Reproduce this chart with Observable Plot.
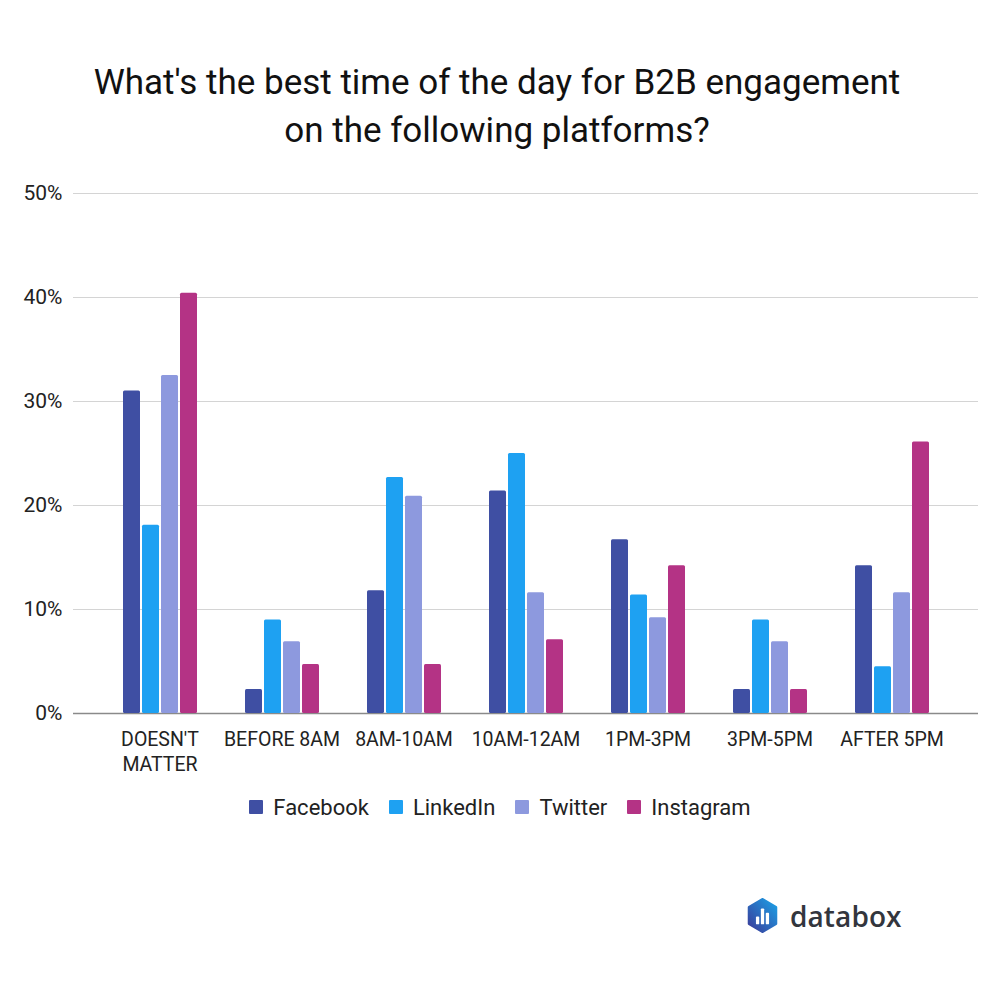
<!DOCTYPE html>
<html>
<head>
<meta charset="utf-8">
<script src="https://cdn.jsdelivr.net/npm/d3@7"></script>
<script src="https://cdn.jsdelivr.net/npm/@observablehq/plot@0.6"></script>
<style>
  html, body { margin: 0; padding: 0; background: #fff; }
  #page { position: relative; width: 1000px; height: 1000px; background: #fff; font-family: Roboto, "Noto Sans", sans-serif; overflow: hidden; }
  #title { position: absolute; left: 0; top: 59px; width: 994px; text-align: center; font-size: 35px; line-height: 48px; color: #111; font-weight: 400; }
  .layer { position: absolute; left: 0; top: 170px; }
  #legend { position: absolute; left: 0; top: 794px; width: 1000px; height: 26px; display: flex; justify-content: center; align-items: center; font-size: 22px; color: #222; }
  #legend .item { display: flex; align-items: center; margin: 0 10px; }
  #legend .sw { width: 14px; height: 14px; margin-right: 10px; border-radius: 1px; }
  #logo { position: absolute; left: 747px; top: 898px; display: flex; align-items: center; }
  #logo .word { font-family: "Open Sans", sans-serif; font-weight: 600; font-size: 28px; line-height: 28px; color: #33363d; margin-left: 12px; letter-spacing: 0.1px; }
</style>
</head>
<body>
<div id="page">
  <div id="title">What's the best time of the day for B2B engagement<br>on the following platforms?</div>
  <div id="bg" class="layer"></div>
  <div id="fg" class="layer"></div>
  <div id="legend"></div>
  <div id="logo">
    <svg width="31" height="35" viewBox="0 0 28 32">
      <defs>
        <linearGradient id="hexg" x1="0" y1="1" x2="1" y2="0">
          <stop offset="0" stop-color="#3b3c9a"/>
          <stop offset="1" stop-color="#1ba0e6"/>
        </linearGradient>
      </defs>
      <path d="M14 1.5 L26 8.5 L26 23.5 L14 30.5 L2 23.5 L2 8.5 Z" fill="url(#hexg)" stroke="url(#hexg)" stroke-width="3" stroke-linejoin="round"/>
      <rect x="8" y="17" width="3" height="7" rx="0.8" fill="#fff"/>
      <rect x="12.5" y="9.5" width="3" height="14.5" rx="0.8" fill="#fff"/>
      <rect x="17" y="13.5" width="3" height="10.5" rx="0.8" fill="#fff"/>
    </svg>
    <span class="word">databox</span>
  </div>
</div>
<script>
const categories = ["DOESN'T MATTER", "BEFORE 8AM", "8AM-10AM", "10AM-12AM", "1PM-3PM", "3PM-5PM", "AFTER 5PM"];
const categoryLabels = ["DOESN'T\nMATTER", "BEFORE 8AM", "8AM-10AM", "10AM-12AM", "1PM-3PM", "3PM-5PM", "AFTER 5PM"];
const platforms = ["Facebook", "LinkedIn", "Twitter", "Instagram"];
const facebook  = [31.0, 2.3, 11.8, 21.4, 16.7, 2.3, 14.2];
const linkedin  = [18.1, 9.0, 22.7, 25.0, 11.4, 9.0, 4.5];
const twitter   = [32.5, 6.9, 20.9, 11.6, 9.2, 6.9, 11.6];
const instagram = [40.4, 4.7, 4.7, 7.1, 14.2, 2.3, 26.1];
const platformColors = ["#3f4fa3", "#1ea1f2", "#8d99de", "#b43385"];
const yTicks = [0, 10, 20, 30, 40, 50];

const series = [facebook, linkedin, twitter, instagram];
const rows = [];
categories.forEach((c, i) => {
  platforms.forEach((p, j) => rows.push({category: c, platform: p, value: series[j][i]}));
});

const W = 1000, H = 603;
const M = {top: 23, right: 22, bottom: 60, left: 73};
const bandOpts = {paddingInner: 0.382, paddingOuter: 0.37};
const font = {fontFamily: "Roboto, sans-serif", background: "transparent", overflow: "visible"};

// Background: grid, y axis, baseline, category labels
const bg = Plot.plot({
  width: W, height: H,
  marginTop: M.top, marginRight: M.right, marginBottom: M.bottom, marginLeft: M.left,
  style: {...font, fontSize: "21px", color: "#222"},
  x: {type: "band", domain: categories, ...bandOpts, axis: null},
  y: {domain: [0, 50], ticks: yTicks, tickFormat: d => d + "%", tickSize: 0, tickPadding: 11, label: null},
  marks: [
    Plot.ruleY(yTicks.filter(d => d > 0), {stroke: "#d4d4d4", strokeWidth: 1.2}),
    Plot.ruleY([0], {stroke: "#8a8a8a", strokeWidth: 1.6}),
    Plot.text(categories, {
      x: d => d,
      text: (d, i) => categoryLabels[i],
      frameAnchor: "bottom",
      lineAnchor: "top",
      dy: 15,
      lineHeight: 1.27,
      fontSize: 19.5,
      fill: "#222"
    })
  ]
});
document.getElementById("bg").appendChild(bg);

// Foreground: grouped bars through facets
const fg = Plot.plot({
  width: W, height: H,
  marginTop: M.top, marginRight: M.right, marginBottom: M.bottom, marginLeft: M.left,
  style: {...font},
  facet: {data: rows, x: "category"},
  fx: {domain: categories, ...bandOpts, axis: null, label: null},
  x: {domain: platforms, paddingInner: 0.13, paddingOuter: 0, axis: null},
  y: {domain: [0, 50], axis: null},
  color: {domain: platforms, range: platformColors},
  marks: [
    Plot.barY(rows, {x: "platform", y: "value", fill: "platform", rx: 1.5})
  ]
});
document.getElementById("fg").appendChild(fg);

// Legend
const legend = document.getElementById("legend");
platforms.forEach((p, i) => {
  const item = document.createElement("div");
  item.className = "item";
  const sw = document.createElement("span");
  sw.className = "sw";
  sw.style.background = platformColors[i];
  const t = document.createElement("span");
  t.textContent = p;
  item.appendChild(sw);
  item.appendChild(t);
  legend.appendChild(item);
});
</script>
</body>
</html>
